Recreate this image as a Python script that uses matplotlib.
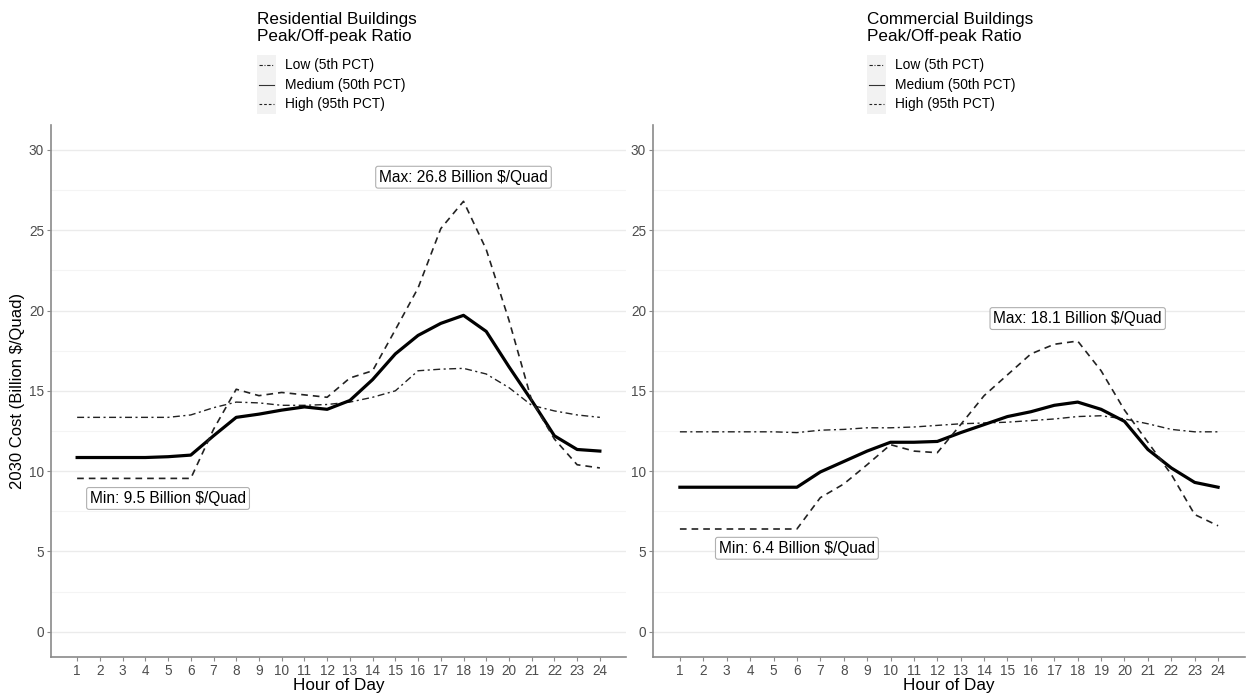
import numpy as np
import matplotlib
matplotlib.use("Agg")
import matplotlib.pyplot as plt
from matplotlib.lines import Line2D
from matplotlib.patches import Rectangle

plt.rcParams['font.family'] = ['Liberation Sans', 'DejaVu Sans']

hours = list(range(1, 25))

# residential buildings
res_low = [13.35, 13.35, 13.35, 13.35, 13.35, 13.5, 13.95, 14.3, 14.25, 14.1, 14.1, 14.15,
           14.3, 14.6, 15.0, 16.25, 16.35, 16.4, 16.05, 15.2, 14.1, 13.75, 13.5, 13.35]
res_med = [10.85, 10.85, 10.85, 10.85, 10.9, 11.0, 12.2, 13.35, 13.55, 13.8, 14.0, 13.85,
           14.4, 15.7, 17.3, 18.45, 19.2, 19.7, 18.7, 16.5, 14.4, 12.2, 11.35, 11.25]
res_high = [9.55, 9.55, 9.55, 9.55, 9.55, 9.55, 12.6, 15.1, 14.7, 14.9, 14.75, 14.6,
            15.8, 16.25, 18.8, 21.4, 25.1, 26.8, 23.8, 19.4, 14.4, 12.0, 10.4, 10.2]

# commercial buildings
com_low = [12.45, 12.45, 12.45, 12.45, 12.45, 12.4, 12.55, 12.6, 12.7, 12.7, 12.75, 12.85,
           12.95, 13.0, 13.05, 13.15, 13.25, 13.4, 13.45, 13.25, 12.95, 12.6, 12.45, 12.45]
com_med = [9.0, 9.0, 9.0, 9.0, 9.0, 9.0, 9.95, 10.6, 11.25, 11.8, 11.8, 11.85,
           12.4, 12.9, 13.4, 13.7, 14.1, 14.3, 13.85, 13.1, 11.35, 10.2, 9.3, 9.0]
com_high = [6.4, 6.4, 6.4, 6.4, 6.4, 6.4, 8.35, 9.2, 10.4, 11.65, 11.25, 11.15,
            12.9, 14.7, 16.0, 17.3, 17.9, 18.1, 16.25, 13.8, 11.8, 9.8, 7.3, 6.6]

panels = [
    dict(title="Residential Buildings\nPeak/Off-peak Ratio", low=res_low, med=res_med, high=res_high,
         max_lbl="Max: 26.8 Billion $/Quad", max_pos=(18, 28.3),
         min_lbl="Min: 9.5 Billion $/Quad", min_pos=(5, 8.3)),
    dict(title="Commercial Buildings\nPeak/Off-peak Ratio", low=com_low, med=com_med, high=com_high,
         max_lbl="Max: 18.1 Billion $/Quad", max_pos=(18, 19.5),
         min_lbl="Min: 6.4 Billion $/Quad", min_pos=(6, 5.2)),
]

W, H = 1248, 694
fig = plt.figure(figsize=(W / 100, H / 100), dpi=100)

ax_boxes = [(51, 626), (653, 1245)]
top_px, bot_px = 125, 656.7

low_style = dict(color='#222222', lw=1.0, dashes=(5, 2.5, 1.5, 2.5))
med_style = dict(color='black', lw=2.3, linestyle='-')
high_style = dict(color='#222222', lw=1.2, dashes=(4, 3))

legend_x = [257, 867]

for i, p in enumerate(panels):
    x0, x1 = ax_boxes[i]
    ax = fig.add_axes([x0 / W, 1 - bot_px / H, (x1 - x0) / W, (bot_px - top_px) / H])
    ax.plot(hours, p['low'], **low_style)
    ax.plot(hours, p['med'], **med_style)
    ax.plot(hours, p['high'], **high_style)

    ax.set_xlim(-0.15, 25.15)
    ax.set_ylim(-1.55, 31.55)
    ax.set_xticks(hours)
    ax.set_yticks(np.arange(0, 31, 5))
    ax.set_yticks(np.arange(2.5, 31, 5), minor=True)
    ax.grid(axis='y', which='major', color='#ebebeb', lw=1.0)
    ax.grid(axis='y', which='minor', color='#f4f4f4', lw=0.8)
    ax.set_axisbelow(True)
    for s in ['top', 'right']:
        ax.spines[s].set_visible(False)
    for s in ['left', 'bottom']:
        ax.spines[s].set_color('#8a8a8a')
        ax.spines[s].set_linewidth(1.2)
    ax.tick_params(axis='both', which='major', colors='#8a8a8a', labelcolor='#4d4d4d',
                   labelsize=9.8, length=3, width=0.8, pad=2)
    ax.tick_params(axis='y', which='minor', length=0)
    ax.set_xlabel("Hour of Day", fontsize=12.3, labelpad=0)
    if i == 0:
        ax.set_ylabel("2030 Cost (Billion $/Quad)", fontsize=12, labelpad=3)

    box = dict(boxstyle='round,pad=0.22,rounding_size=0.15', fc='white', ec='#b0b0b0', lw=0.8)
    ax.text(*p['max_pos'], p['max_lbl'], ha='center', va='center', fontsize=11.2, bbox=box)
    ax.text(*p['min_pos'], p['min_lbl'], ha='center', va='center', fontsize=11.2, bbox=box)

    # legend above each panel
    lx = legend_x[i]
    fig.text(lx / W, 1 - 12 / H, p['title'], ha='left', va='top', fontsize=12.3, linespacing=1.2)
    fig.add_artist(Rectangle((lx / W, 1 - 114 / H), 19 / W, 59 / H,
                             transform=fig.transFigure, fc='#f2f2f2', ec='none'))
    entries = [("Low (5th PCT)", low_style), ("Medium (50th PCT)", dict(color='#333333', lw=1.0)),
               ("High (95th PCT)", high_style)]
    for j, (lbl, st) in enumerate(entries):
        yy = 1 - (65 + j * 19.5) / H
        st2 = dict(st)
        st2['lw'] = 0.8
        if 'dashes' in st2:
            st2['dashes'] = tuple(d * 0.6 for d in st2['dashes'])
        fig.add_artist(Line2D([(lx + 2) / W, (lx + 17) / W], [yy, yy], transform=fig.transFigure, **st2))
        fig.text((lx + 28) / W, yy, lbl, ha='left', va='center', fontsize=9.9)

fig.savefig("out.png", dpi=100)
